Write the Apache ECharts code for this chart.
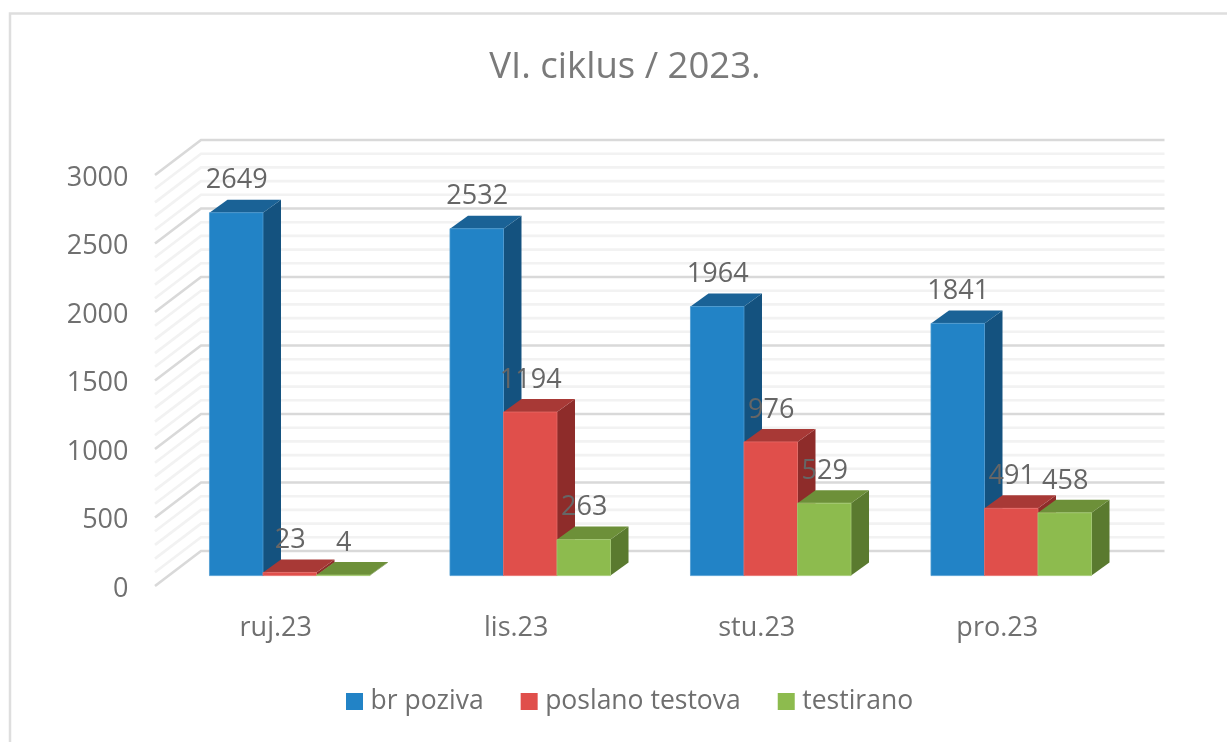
<!DOCTYPE html>
<html><head><meta charset="utf-8">
<style>html,body{margin:0;padding:0;background:#fff}#c{width:1227px;height:742px}</style>
<script src="https://cdn.jsdelivr.net/npm/echarts@6/dist/echarts.min.js"></script>
</head><body><div id="c"></div>
<script>
const categories = ['ruj.23','lis.23','stu.23','pro.23'];
const brPoziva = [2649,2532,1964,1841];
const poslanoTestova = [23,1194,976,491];
const testirano = [4,263,529,458];
const gridValues = [0,100,200,300,400,500,600,700,800,900,1000,1100,1200,1300,1400,1500,1600,1700,1800,1900,2000,2100,2200,2300,2400,2500,2600,2700,2800,2900,3000];

const FONT = 'Open Sans';
const depth = {dx:18, dy:-13};
const backWall = {dx:31.5, dy:-24.6};
const frontWall = {dx:-14.5, dy:10.4};
const barFrac = 0.2225;

function barSeries(name, values, idx, c){
  return {
    name, type:'custom', coordinateSystem:'cartesian2d',
    itemStyle:{color:c.front},
    data: values.map((v,i)=>[i,v]),
    encode:{x:0,y:1},
    renderItem(params, api){
      const cat=api.value(0), val=api.value(1);
      const base=api.coord([cat,0]), top=api.coord([cat,val]);
      const w=api.size([1,0])[0]*barFrac;
      const x0=base[0]+(idx-1.5)*w, x1=x0+w, yb=base[1], yt=top[1];
      const dx=depth.dx, dy=depth.dy;
      return {type:'group',children:[
        {type:'polygon',shape:{points:[[x1,yt],[x1+dx,yt+dy],[x1+dx,yb+dy],[x1,yb]]},style:{fill:c.side}},
        {type:'polygon',shape:{points:[[x0,yt],[x0+dx,yt+dy],[x1+dx,yt+dy],[x1,yt]]},style:{fill:c.top}},
        {type:'rect',shape:{x:x0,y:yt,width:w,height:yb-yt},style:{fill:c.front,stroke:c.edge,lineWidth:0.8}},
        {type:'text',z2:100,style:{text:String(val),x:x0+w/2+0.5,y:yt+dy-19,align:'center',verticalAlign:'middle',
          font:'27px "'+FONT+'"',fill:'#666666'}}
      ]};
    }
  };
}
const chart = echarts.init(document.getElementById('c'),null,{renderer:'canvas'});
chart.setOption({
  animation:false,
  backgroundColor:'#ffffff',
  title:{text:'VI. ciklus / 2023.',left:620,top:63,textAlign:'center',textVerticalAlign:'middle',
    textStyle:{fontFamily:FONT,fontSize:36.5,fontWeight:'normal',color:'#7a7a7a'}},
  grid:{left:169.5,width:962,top:164.6,height:411,containLabel:false},
  graphic:[{type:'polyline',z:0,shape:{points:[[10,742],[10,13.5],[1227,13.5]]},style:{fill:null,stroke:'#dedede',lineWidth:2.5}}],
  legend:{data:['br poziva','poslano testova','testirano'],left:341,top:683,itemWidth:17,itemHeight:17,itemGap:37,
    icon:'rect',textStyle:{fontFamily:FONT,fontSize:26.5,color:'#6f6f6f',padding:[0,0,0,2.5]},selectedMode:false},
  xAxis:{type:'category',data:categories,axisLine:{show:false},axisTick:{show:false},splitLine:{show:false},
    axisLabel:{fontFamily:FONT,fontSize:27,color:'#707070',margin:39,padding:[0,28,0,0]}},
  yAxis:{type:'value',min:0,max:3000,interval:500,axisLine:{show:false},axisTick:{show:false},splitLine:{show:false},
    axisLabel:{fontFamily:FONT,fontSize:27,color:'#707070',margin:41,verticalAlign:'top',lineHeight:27,
      formatter:v=>String(v)}},
  series:[
    {type:'custom',name:'grid',coordinateSystem:'cartesian2d',z:1,silent:true,
     data:gridValues.map(v=>[0,v]),encode:{y:1},
     renderItem(params,api){
       const v=api.value(1), y=api.coord([0,v])[1];
       const r=params.coordSys;
       const L=r.x, R=r.x+r.width;
       const major=v%500===0;
       return {type:'polyline',shape:{points:[[L+frontWall.dx,y+frontWall.dy],[L+backWall.dx,y+backWall.dy],[R+backWall.dx+1.5,y+backWall.dy]]},
         style:{fill:null,stroke:major?'#d9d9d9':'#f2f2f2',lineWidth:2.6}};
     }},
    barSeries('br poziva',brPoziva,0,{front:'#2283c6',side:'#14527f',top:'#1a6296',edge:'#4c9bd2'}),
    barSeries('poslano testova',poslanoTestova,1,{front:'#e04f4b',side:'#8e2c2a',top:'#a83936',edge:'#e66b67'}),
    barSeries('testirano',testirano,2,{front:'#8dbb4e',side:'#5a7a2f',top:'#6d9039',edge:'#a3c871'})
  ]
});
</script></body></html>
